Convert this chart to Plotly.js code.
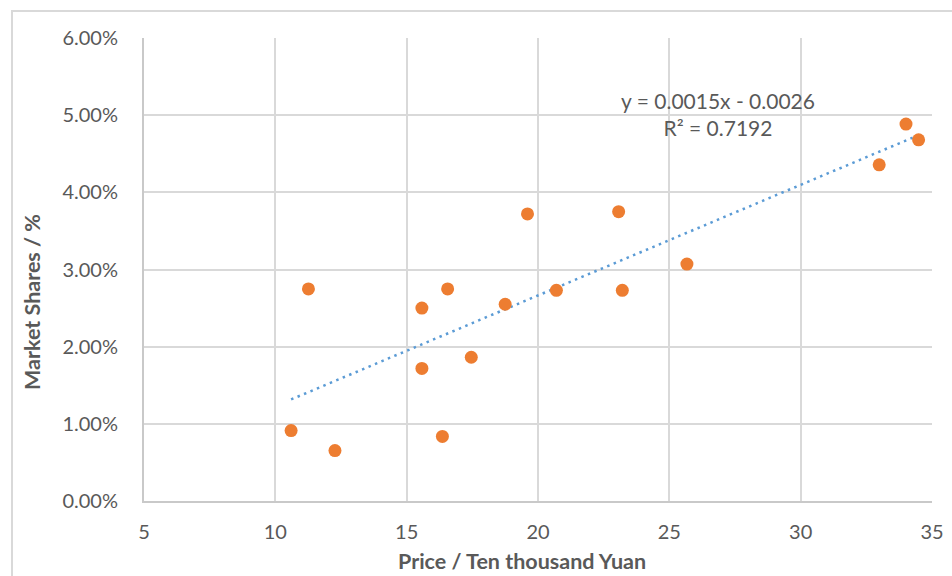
<!DOCTYPE html>
<html>
<head>
<meta charset="utf-8">
<script src="https://cdn.plot.ly/plotly-3.0.1.min.js"></script>
<style>
  html, body { margin: 0; padding: 0; width: 952px; height: 576px; overflow: hidden; background: #fff; }
  #frame { position: absolute; left: 11px; top: 10px; width: 1000px; height: 1000px; border: 2px solid #d9d9d9; box-sizing: border-box; }
  #chart { position: absolute; left: 0; top: 0; width: 952px; height: 576px; }
</style>
</head>
<body>
<div id="frame"></div>
<div id="chart"></div>
<script>
// Price (ten thousand yuan)
const price = [10.6, 11.26, 12.27, 15.58, 15.58, 16.36, 16.56, 17.46, 18.75, 19.6, 20.7, 23.07, 23.21, 25.67, 32.99, 34.01, 34.49];
// Market share (fraction)
const share = [0.00913, 0.02748, 0.00654, 0.0250, 0.01718, 0.00837, 0.02748, 0.01863, 0.0255, 0.0372, 0.0273, 0.0375, 0.0273, 0.0307, 0.04357, 0.04884, 0.0468];
const xTicks = [5, 10, 15, 20, 25, 30, 35];
const yTicks = [0, 0.01, 0.02, 0.03, 0.04, 0.05, 0.06];
const equationText = 'y = 0.0015x - 0.0026<br>R² = 0.7192';
const xTitle = 'Price / Ten thousand Yuan';
const yTitle = 'Market Shares / %';

// least squares linear trendline
const n = price.length;
const mx = price.reduce((a, b) => a + b, 0) / n;
const my = share.reduce((a, b) => a + b, 0) / n;
let sxy = 0, sxx = 0;
for (let i = 0; i < n; i++) { sxy += (price[i] - mx) * (share[i] - my); sxx += (price[i] - mx) ** 2; }
const slope = sxy / sxx;
const intercept = my - slope * mx;
const xMin = Math.min(...price), xMax = Math.max(...price);
const trendX = [xMin, xMax];
const trendY = trendX.map(x => slope * x + intercept);

const FONT = 'Lato, "Open Sans", sans-serif';
const GRAY = '#595959';

const traces = [
  {
    x: trendX, y: trendY, type: 'scatter', mode: 'lines',
    line: { color: '#5b9bd5', width: 2.5, dash: '2.5px,4.5px' },
    hoverinfo: 'skip', showlegend: false
  },
  {
    x: price, y: share, type: 'scatter', mode: 'markers',
    marker: { color: '#ed7d31', size: 13 },
    showlegend: false
  }
];

const layout = {
  width: 952, height: 576,
  margin: { l: 144, r: 20, t: 38, b: 75, pad: 0 },
  paper_bgcolor: 'rgba(0,0,0,0)',
  plot_bgcolor: '#fff',
  showlegend: false,
  font: { family: FONT, color: GRAY, size: 20 },
  xaxis: {
    range: [5, 35], tickvals: xTicks, ticktext: xTicks.map(String),
    showgrid: true, gridcolor: '#d9d9d9', gridwidth: 2,
    showline: true, linecolor: '#c9c9c9', linewidth: 2,
    zeroline: false, ticks: '', ticklabelstandoff: 12,
    tickfont: { family: FONT, size: 20, color: GRAY }
  },
  yaxis: {
    range: [0, 0.06], tickvals: yTicks, tickformat: '.2%',
    showgrid: true, gridcolor: '#d9d9d9', gridwidth: 2,
    showline: true, linecolor: '#c9c9c9', linewidth: 2,
    zeroline: false, ticks: '', ticklabelstandoff: 20,
    tickfont: { family: FONT, size: 20, color: GRAY }
  },
  annotations: [
    {
      text: equationText, xref: 'x', yref: 'y', x: 26.87, y: 0.0502,
      showarrow: false, align: 'center',
      font: { family: FONT, size: 21, color: GRAY }
    },
    {
      text: '<b>' + xTitle + '</b>', xref: 'paper', yref: 'paper',
      x: (522 - 144) / 788, y: -(561 - 501) / 463, xanchor: 'center', yanchor: 'middle',
      showarrow: false, font: { family: FONT, size: 21.5, color: GRAY }
    },
    {
      text: '<b>' + yTitle + '</b>', xref: 'paper', yref: 'paper', textangle: -90,
      x: -(144 - 32) / 788, y: (501 - 302) / 463, xanchor: 'center', yanchor: 'middle',
      showarrow: false, font: { family: FONT, size: 21.5, color: GRAY }
    }
  ]
};

Plotly.newPlot('chart', traces, layout, { displayModeBar: false, staticPlot: true });
</script>
</body>
</html>
